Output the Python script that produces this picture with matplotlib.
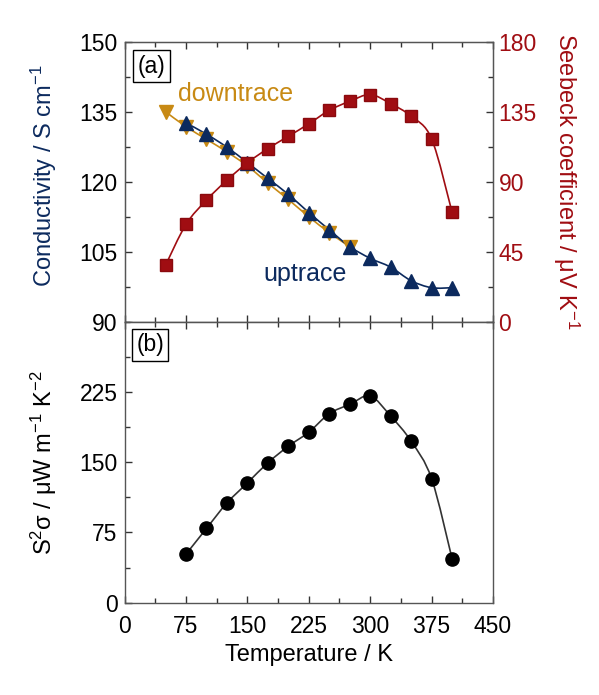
import matplotlib
matplotlib.use("Agg")
import matplotlib.pyplot as plt
from matplotlib.path import Path
from matplotlib.patches import PathPatch
from matplotlib.ticker import MultipleLocator
import numpy as np

plt.rcParams['font.family'] = ['Liberation Sans', 'DejaVu Sans']
plt.rcParams['mathtext.default'] = 'regular'

# temperatures (K)
t_up = [75, 100, 125, 150, 175, 200, 225, 250, 275, 300, 325, 350, 375, 400]
t_down = [50, 75, 100, 125, 150, 175, 200, 225, 250, 275]
t_seebeck = [50, 75, 100, 125, 150, 175, 200, 225, 250, 275, 300, 325, 350, 375, 400]
t_pf = [75, 100, 125, 150, 175, 200, 225, 250, 275, 300, 325, 350, 375, 400]

# conductivity, S/cm
sigma_up = [132.6, 130.2, 127.4, 124.1, 120.7, 117.3, 113.4, 109.7, 106.1, 103.6, 101.7, 98.8, 97.3, 97.3]
sigma_down = [135.0, 131.8, 129.1, 126.4, 123.4, 119.7, 116.2, 112.5, 109.1, 106.1]
# Seebeck, uV/K
seebeck = [36.3, 62.6, 78.2, 91.0, 102.2, 111.3, 119.2, 127.2, 135.9, 141.7, 146.0, 140.2, 132.1, 117.6, 70.5]
# power factor, uW m-1 K-2
pf = [51.8, 79.3, 106.5, 127.9, 149.4, 167.1, 182.1, 201.8, 211.8, 220.7, 199.3, 172.5, 132.5, 47.1]

NAVY = '#0c2a5e'
GOLD = '#c88a14'
RED = '#a00d12'


def smooth(ax, x, y, color, lw=1.2, z=2):
    # catmull-rom curve through the measured points
    x = np.asarray(x, float)
    y = np.asarray(y, float)
    pts = np.column_stack([x, y])
    n = len(pts)
    verts = [pts[0]]
    codes = [Path.MOVETO]
    for i in range(n - 1):
        p0 = pts[i - 1] if i > 0 else pts[i]
        p1 = pts[i]
        p2 = pts[i + 1]
        p3 = pts[i + 2] if i + 2 < n else pts[i + 1]
        verts += [p1 + (p2 - p0) / 6, p2 - (p3 - p1) / 6, p2]
        codes += [Path.CURVE4] * 3
    ax.add_patch(PathPatch(Path(verts, codes), fill=False, edgecolor=color, lw=lw, zorder=z))


fig = plt.figure(figsize=(5.99, 6.95), dpi=100)
L, R = 0.208, 0.823
ax1 = fig.add_axes([L, 0.537, R - L, 0.940 - 0.537])
ax2 = fig.add_axes([L, 0.1328, R - L, 0.537 - 0.1328])
ax1r = ax1.twinx()

# --- panel (a)
smooth(ax1, t_down, sigma_down, GOLD)
ax1.plot(t_down, sigma_down, ls='none', marker='v', ms=10, color=GOLD, zorder=3)
smooth(ax1, t_up, sigma_up, NAVY)
ax1.plot(t_up, sigma_up, ls='none', marker='^', ms=10, color=NAVY, zorder=4)
smooth(ax1r, t_seebeck, seebeck, RED)
ax1r.plot(t_seebeck, seebeck, ls='none', marker='s', ms=9, color=RED, mec='#8a0a0e', zorder=3)

ax1.set_xlim(0, 450)
ax1.set_ylim(90, 150)
ax1r.set_ylim(0, 180)
ax1.set_yticks([90, 105, 120, 135, 150])
ax1r.set_yticks([0, 45, 90, 135, 180])
ax1.yaxis.set_minor_locator(MultipleLocator(7.5))
ax1r.yaxis.set_minor_locator(MultipleLocator(22.5))

# --- panel (b)
smooth(ax2, t_pf, pf, '#333333')
ax2.plot(t_pf, pf, ls='none', marker='o', ms=9.5, color='black', zorder=3)
ax2.set_xlim(0, 450)
ax2.set_ylim(0, 300)
ax2.set_yticks([0, 75, 150, 225])
ax2.yaxis.set_minor_locator(MultipleLocator(37.5))

for ax in (ax1, ax2):
    ax.set_xticks([0, 75, 150, 225, 300, 375, 450])
    ax.xaxis.set_minor_locator(MultipleLocator(37.5))
    ax.tick_params(which='both', direction='in', top=True, right=False, labelsize=16.5, color='#333333')
    ax.tick_params(which='major', length=5, width=1)
    ax.tick_params(which='minor', length=3.5, width=1)
    ax.tick_params(axis='x', pad=9)
    ax.tick_params(axis='y', pad=5)
    for s in ax.spines.values():
        s.set_color('#555555')
        s.set_linewidth(1)

ax1.tick_params(axis='x', labelbottom=False)
ax1r.tick_params(which='both', direction='in', labelsize=16.5, labelcolor=RED, color='#333333', pad=4)
ax1r.tick_params(which='major', length=5, width=1)
ax1r.tick_params(which='minor', length=3.5, width=1)
for s in ax1r.spines.values():
    s.set_color('#555555')

ax1.set_ylabel('Conductivity / S cm$^{-1}$', color=NAVY, fontsize=17)
ax1.yaxis.set_label_coords(-0.177, 0.52)
ax1r.set_ylabel('Seebeck coefficient / μV K$^{-1}$', color=RED, fontsize=17, rotation=270, va='bottom')
ax1r.yaxis.set_label_coords(1.158, 0.5)
ax2.set_ylabel('S$^2$σ / μW m$^{-1}$ K$^{-2}$', fontsize=17)
ax2.yaxis.set_label_coords(-0.177, 0.5)
ax2.set_xlabel('Temperature / K', fontsize=17)
ax2.xaxis.set_label_coords(0.5, -0.148)

box = dict(boxstyle='square,pad=0.2', fc='white', ec='black', lw=1)
ax1.text(0.074, 0.913, '(a)', transform=ax1.transAxes, fontsize=16.5, ha='center', va='center', bbox=box, zorder=6)
ax2.text(0.069, 0.918, '(b)', transform=ax2.transAxes, fontsize=16.5, ha='center', va='center', bbox=box, zorder=6)
ax1.text(135, 137.3, 'downtrace', color=GOLD, fontsize=18, ha='center', va='baseline')
ax1.text(220, 98.8, 'uptrace', color=NAVY, fontsize=18, ha='center', va='baseline')

fig.savefig('out.png', dpi=100)
